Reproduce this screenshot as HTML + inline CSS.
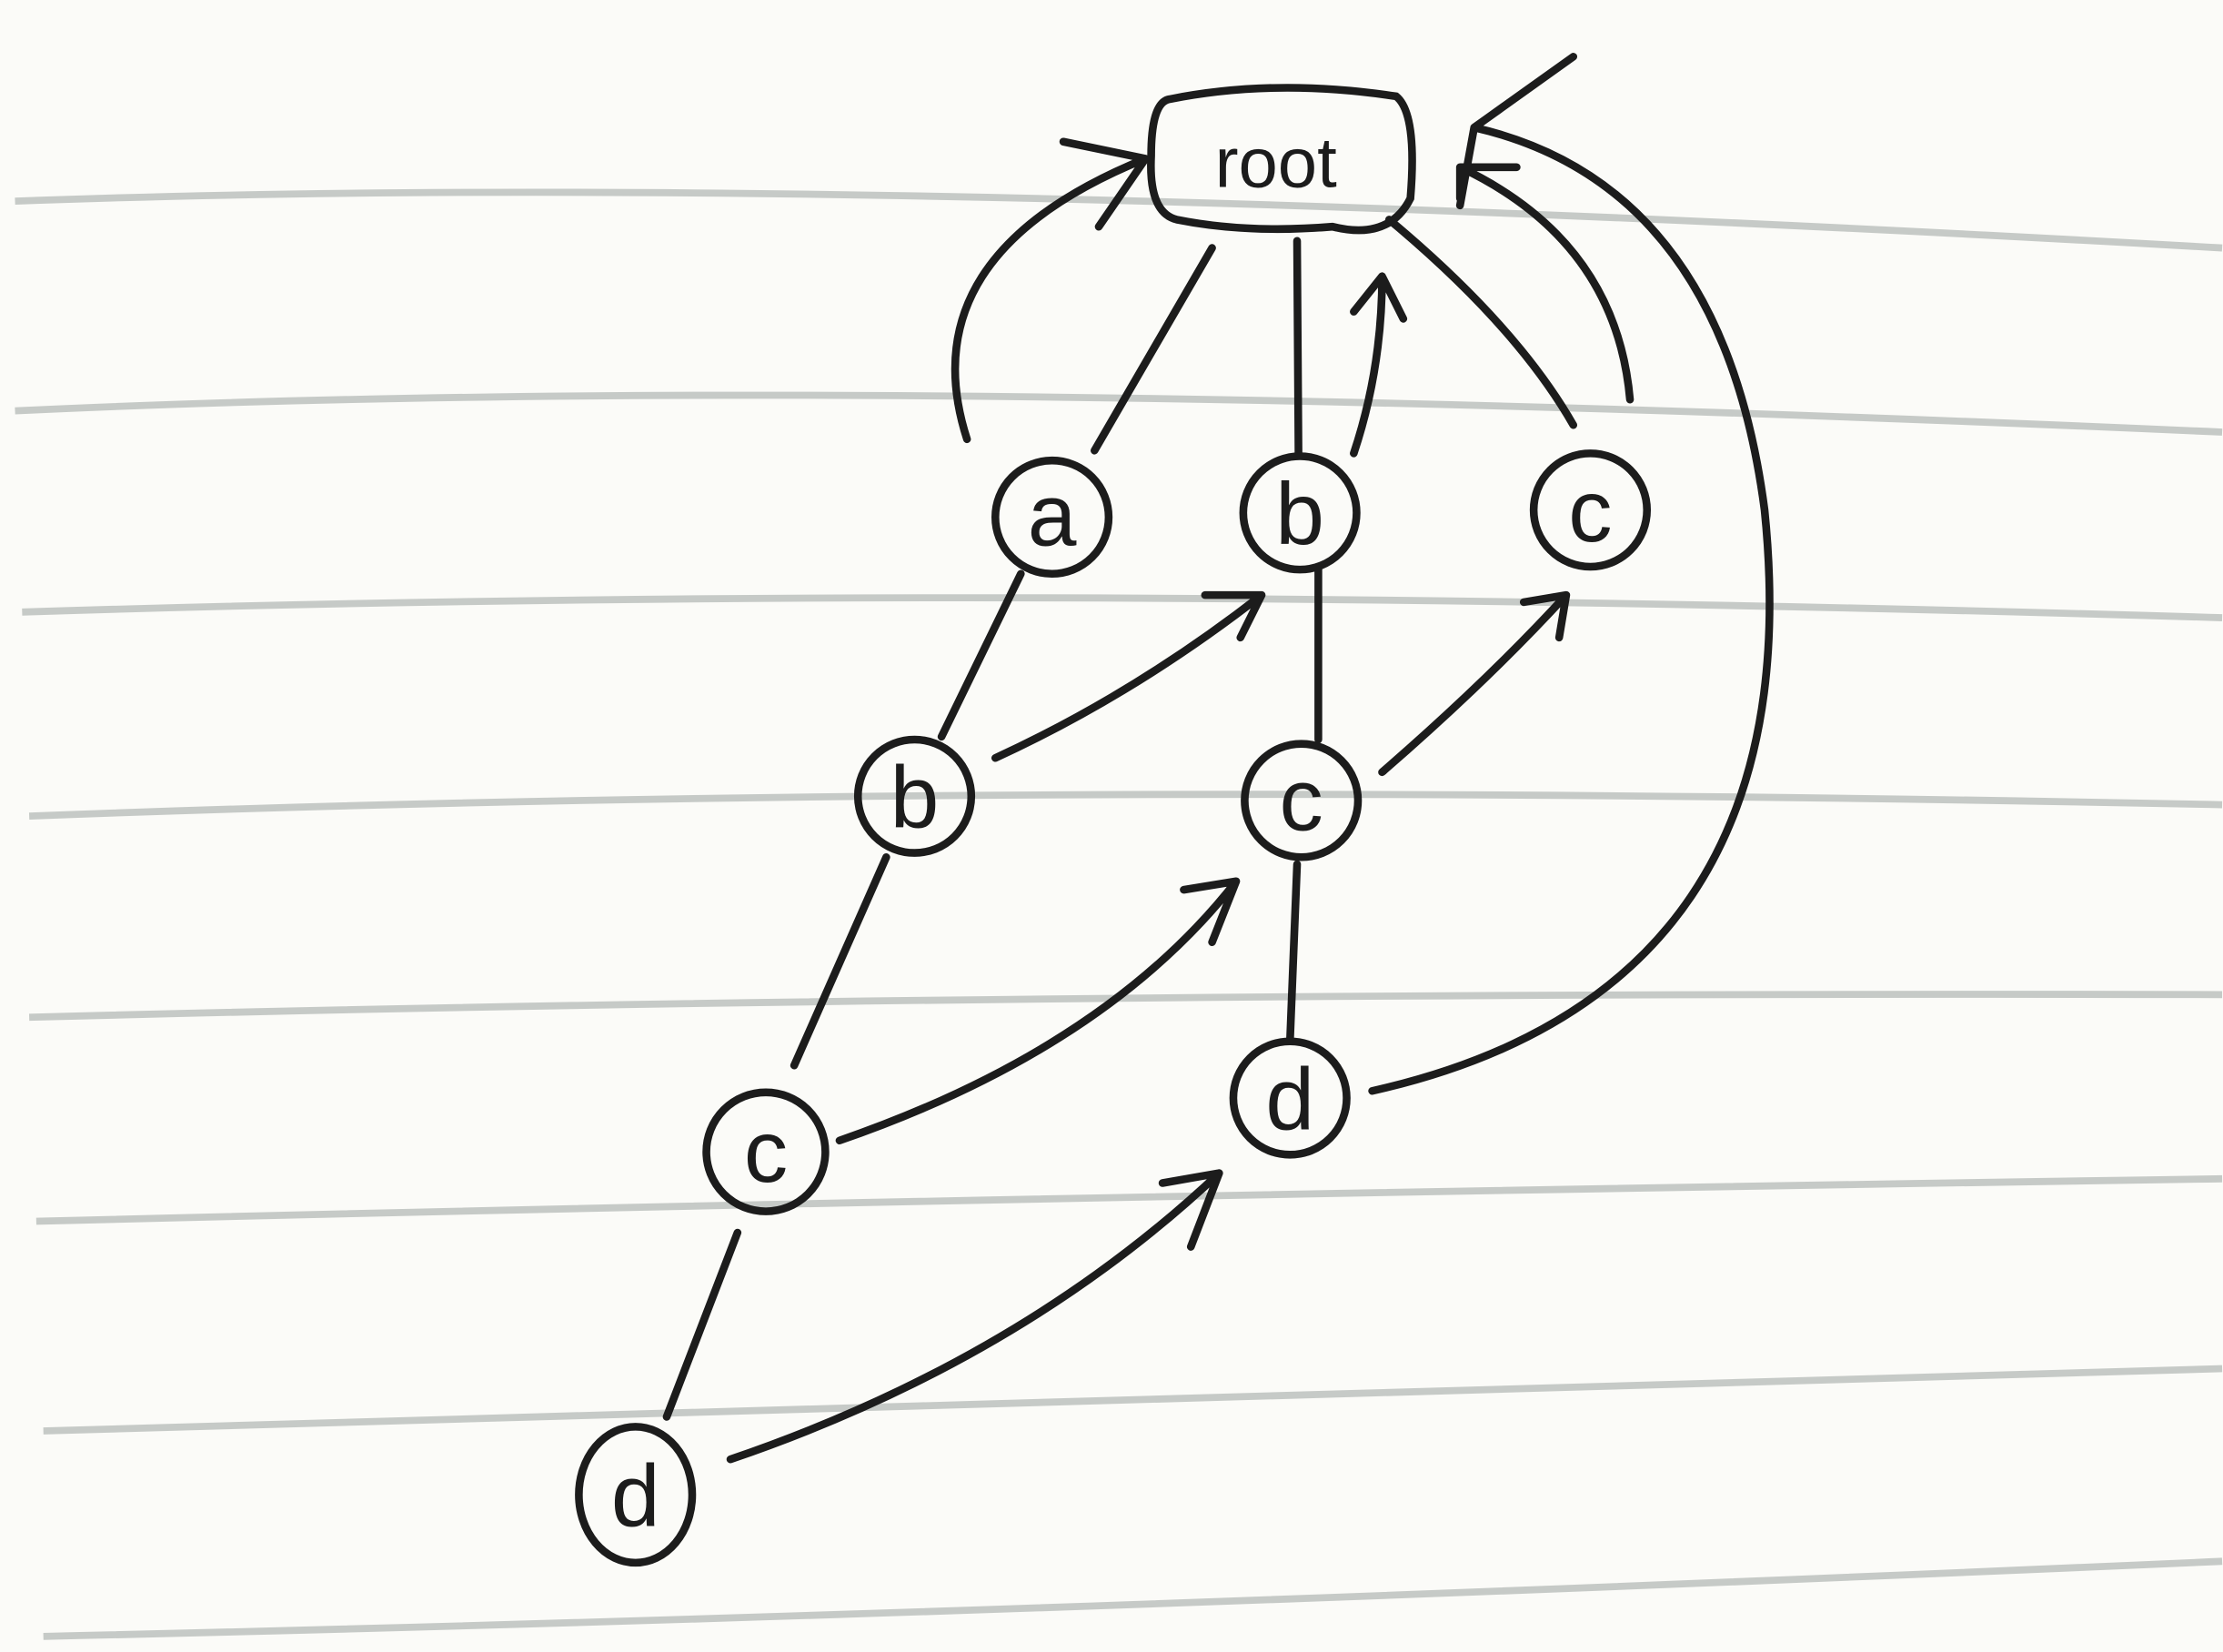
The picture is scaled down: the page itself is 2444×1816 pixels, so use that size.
<!DOCTYPE html>
<html><head><meta charset="utf-8"><style>
html,body{margin:0;padding:0;background:#fbfbf8;}
svg{display:block}
</style></head><body>
<svg width="2444" height="1816" viewBox="0 0 1568 1166" xmlns="http://www.w3.org/2000/svg">
<rect x="0" y="0" width="1568" height="1166" fill="#fbfbf8"/>
<g stroke="#b9beba" stroke-width="5" fill="none" opacity="0.8">
<path d="M10 142 Q600 120 1568 175"/>
<path d="M10 290 Q600 262 1568 305"/>
<path d="M15 432 Q700 410 1568 436"/>
<path d="M20 576 Q700 550 1568 568"/>
<path d="M20 718 Q700 700 1568 702"/>
<path d="M25 862 Q700 845 1568 832"/>
<path d="M30 1010 Q700 990 1568 966"/>
<path d="M30 1155 Q700 1140 1568 1102"/>
</g>
<g stroke="#1c1c1c" stroke-width="5.5" fill="none" stroke-linecap="round">
<path d="M855 175 L772 318"/>
<path d="M915 170 L916 320"/>
<path d="M980 155 Q1070 230 1110 300"/>
<path d="M720 405 L664 520"/>
<path d="M930 402 L930 522"/>
<path d="M625 605 L560 752"/>
<path d="M915 610 L910 735"/>
<path d="M520 870 L470 1000"/>
</g>
<g stroke="#1c1c1c" stroke-width="5.5" fill="none" stroke-linecap="round" stroke-linejoin="round">
<path d="M682 310 Q640 180 808 112 M750 100 L808 112 L775 160"/>
<path d="M955 320 Q975 260 975 195 M955 220 L975 195 L990 225"/>
<path d="M1150 282 Q1140 170 1030 118 M1030 140 L1030 118 L1070 118"/>
<path d="M968 770 Q1280 700 1245 360 Q1215 130 1040 90 M1040 90 L1110 40 M1040 90 L1030 145"/>
<path d="M702 535 Q800 490 890 420 M850 420 L890 420 L875 450"/>
<path d="M975 545 Q1050 480 1105 420 M1075 425 L1105 420 L1100 450"/>
<path d="M592 805 Q780 740 872 622 M835 628 L872 622 L855 665"/>
<path d="M515 1030 Q720 960 860 828 M820 835 L860 828 L840 880"/>
</g>
<g stroke="#1c1c1c" stroke-width="5.5" fill="none">
<path d="M825 70 Q900 55 985 68 Q1000 80 995 140 Q980 170 940 160 Q880 165 830 155 Q810 150 812 110 Q812 72 825 70 Z"/>
<circle cx="742" cy="365" r="40"/>
<circle cx="917" cy="362" r="40"/>
<circle cx="1122" cy="360" r="40"/>
<circle cx="645" cy="562" r="40"/>
<circle cx="918" cy="565" r="40"/>
<circle cx="540" cy="813" r="42"/>
<circle cx="910" cy="775" r="40"/>
<ellipse cx="448" cy="1055" rx="40" ry="48"/>
</g>
<g font-family="Liberation Sans, sans-serif" font-size="62" fill="#1c1c1c" text-anchor="middle">
<text x="900" y="132" font-size="50">root</text>
<text x="742" y="385">a</text>
<text x="917" y="384">b</text>
<text x="1122" y="382">c</text>
<text x="645" y="584">b</text>
<text x="918" y="586">c</text>
<text x="540" y="834">c</text>
<text x="910" y="797">d</text>
<text x="448" y="1077">d</text>
</g>
</svg>
</body></html>
